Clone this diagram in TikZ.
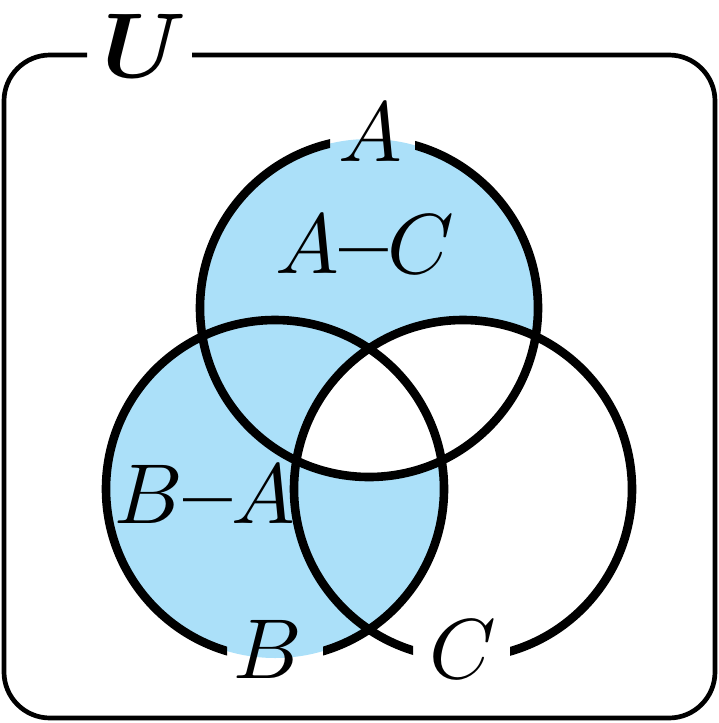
\documentclass[tikz,border=0pt]{standalone}
\usepackage{bm}
\definecolor{vennblue}{RGB}{171,224,249}
\begin{document}
\begin{tikzpicture}[x=0.5pt,y=-0.5pt,
  ring/.style={line width=4.3pt},
  frame/.style={line width=2.35pt, rounded corners=23pt},
  lab/.style={font=\normalsize, scale=4.25, inner sep=0pt, anchor=base},
  ulab/.style={font=\normalsize, scale=4.6, inner sep=0pt, anchor=base},
]
\useasboundingbox (0,0) rectangle (718,723);
% fills
\fill[vennblue] (369,308) circle [radius=169];
\begin{scope}
  \clip (369,308) circle [radius=169];
  \fill[white] (463,489) circle [radius=169];
\end{scope}
\begin{scope}
  \clip (275,489) circle [radius=169];
  \fill[vennblue, even odd rule] (275,489) circle [radius=169] (369,308) circle [radius=169];
\end{scope}
% labels
\node[lab] (la) at (370,161) {$A$};
\node[lab] (lb) at (268,678) {$B$};
\node[lab] (lc) at (463,678) {$C$};
\node[lab] (lac) at (365,273) {$A$\textbf{--}$C$};
\node[lab] (lba) at (205,523) {$B$\textbf{--}$A$};
\node[ulab] (lu) at (145,77) {$\bm{U}$};
% circle outlines with gaps at the labels
\begin{scope}[even odd rule]
  \clip (0,0) rectangle (718,723)
     (330,95) rectangle (415,170)
     (227,610) rectangle (323,695)
     (413,610) rectangle (510,695);
  \draw[ring] (369,308) circle [radius=169];
  \draw[ring] (275,489) circle [radius=169];
  \draw[ring] (463,489) circle [radius=169];
\end{scope}
% universe frame with gap for U
\begin{scope}[even odd rule]
  \clip (0,0) rectangle (718,723) (87,30) rectangle (192,80);
  \draw[frame] (4,55) rectangle (715,718);
\end{scope}
\end{tikzpicture}
\end{document}
